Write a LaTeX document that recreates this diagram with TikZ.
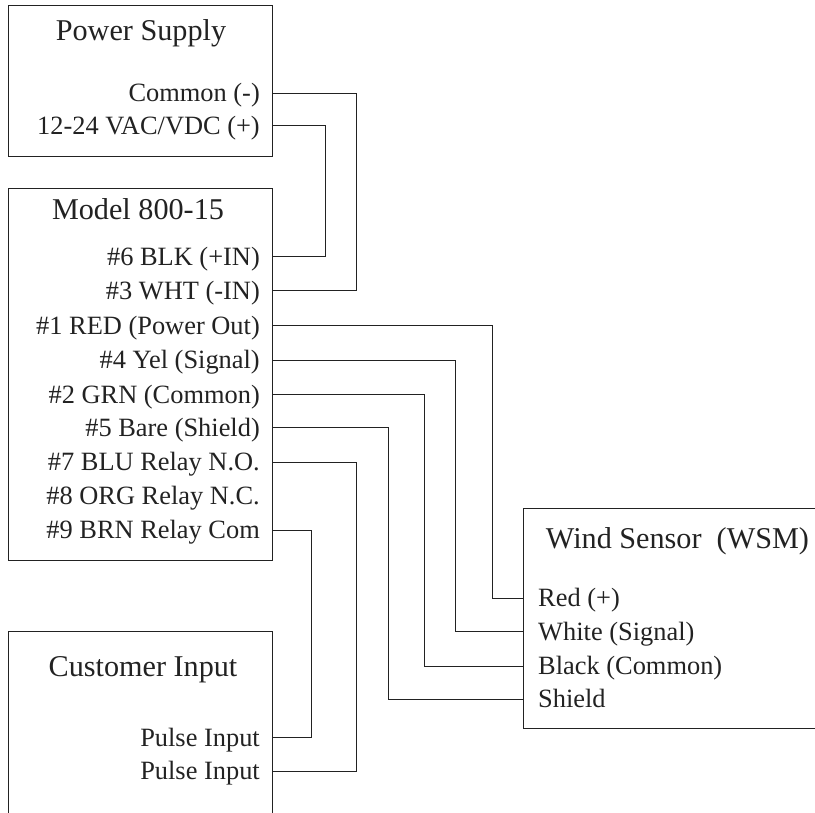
\documentclass[tikz,border=0pt]{standalone}
\usepackage{fontspec}
\setmainfont{Liberation Serif}
\definecolor{ink}{HTML}{222222}
\tikzset{
    title/.style={anchor=base, inner sep=0pt, text=ink, font=\fontsize{30.2}{33}\selectfont},
    portl/.style={anchor=east, inner ysep=0pt, inner xsep=12pt, text height=19.5pt, text depth=2.5pt, text=ink, font=\fontsize{26.4}{30}\selectfont},
    portr/.style={portl, anchor=west, inner xsep=14.5pt},
    wire/.style={line width=1pt, color=ink},
    box/.style={line width=1pt, color=ink}
}
\begin{document}
\begin{tikzpicture}[x=1pt, y=-1pt]
            \useasboundingbox (0,0) rectangle (815,813);

            \draw[box] (8,6) rectangle (272,157);
            \draw[box] (8,189) rectangle (272,560.5);
            \draw[box] (8,813) -- (8,631) -- (272,631) -- (272,813);
            \draw[box] (815,508) -- (523.5,508) -- (523.5,728.5) -- (815,728.5);

            \node[title] (power) at (141,40.5) {Power Supply};
            \node[title] (model) at (138,219.5) {Model 800-15};
            \node[title] (customer) at (143,676.5) {Customer Input};
            \node[title] (wind) at (677.5,548) {Wind Sensor\ \ (WSM)};

            \foreach \n/\y/\t in {com/93.5/{Common (-)}, vac/126/{12-24 VAC/VDC (+)},
                    blk/257/{\#6 BLK (+IN)}, wht/291/{\#3 WHT (-IN)}, red/326/{\#1 RED (Power Out)},
                    yel/360.5/{\#4 Yel (Signal)}, grn/395/{\#2 GRN (Common)}, bare/428/{\#5 Bare (Shield)},
                    blu/462/{\#7 BLU Relay N.O.}, org/496/{\#8 ORG Relay N.C.}, brn/530/{\#9 BRN Relay Com},
                    pa/737.5/{Pulse Input}, pb/771/{Pulse Input}} {
                \node[portl] (\n) at (272,\y) {\t};
            }

            \foreach \n/\y/\t in {wred/598/{Red (+)}, wwht/631.5/{White (Signal)},
                    wblk/666/{Black (Common)}, wshd/699/{Shield}} {
                \node[portr] (\n) at (523.5,\y) {\t};
            }

            \draw[wire] (com.east) -- ++(84,0) |- (wht.east);
            \draw[wire] (vac.east) -- ++(53.5,0) |- (blk.east);
            \draw[wire] (red.east) -- ++(220,0) |- (wred.west);
            \draw[wire] (yel.east) -- ++(183,0) |- (wwht.west);
            \draw[wire] (grn.east) -- ++(152,0) |- (wblk.west);
            \draw[wire] (bare.east) -- ++(116,0) |- (wshd.west);
            \draw[wire] (blu.east) -- ++(84,0) |- (pb.east);
            \draw[wire] (brn.east) -- ++(39,0) |- (pa.east);
        \end{tikzpicture}
\end{document}
